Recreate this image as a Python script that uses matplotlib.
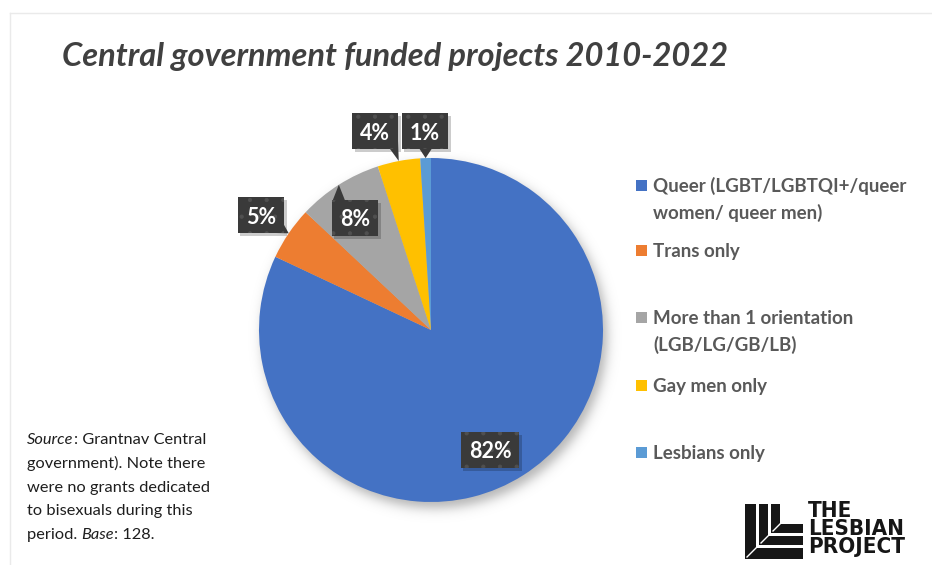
import numpy as np
import matplotlib
matplotlib.use("Agg")
import matplotlib.pyplot as plt
from matplotlib.patches import Rectangle, Polygon

# ---- data -------------------------------------------------------------
categories = [
    "Queer (LGBT/LGBTQI+/queer\nwomen/ queer men)",
    "Trans only",
    "More than 1 orientation\n(LGB/LG/GB/LB)",
    "Gay men only",
    "Lesbians only",
]
shares = [82, 5, 8, 4, 1]
colors = ["#4472C4", "#ED7D31", "#A5A5A5", "#FFC000", "#5B9BD5"]
title = "Central government funded projects 2010-2022"

# ---- layout (pixels, origin top-left) ----------------------------------
W, H = 932, 565
CX, CY, R = 431, 330, 172
label_centers = [(490, 450), (261, 215), (355, 218), (375, 131), (425, 131)]
label_pointer = [False, True, True, True, True]
legend_y = [185, 250, 317, 385, 452]
legend_step = 26.5

plt.rcParams["hatch.linewidth"] = 0.6
plt.rcParams["hatch.color"] = "#505050"

fig = plt.figure(figsize=(W / 100, H / 100), dpi=100)
fig.patch.set_facecolor("white")


def pixel_axes(zorder):
    a = fig.add_axes([0, 0, 1, 1], zorder=zorder)
    a.set_xlim(0, W)
    a.set_ylim(H, 0)
    a.axis("off")
    return a


bg = pixel_axes(0)

# soft drop shadow beneath the pie
yy, xx = np.mgrid[0:H, 0:W] + 0.5
dist = np.hypot(xx - (CX + 4), yy - (CY + 6))
alpha = 0.5 * (1 - np.tanh((dist - R) / 7.0)) * 0.30
shadow = np.zeros((H, W, 4))
shadow[..., 3] = alpha
bg.imshow(shadow, extent=[0, W, H, 0], interpolation="bilinear", aspect="auto", zorder=0)
bg.set_xlim(0, W)
bg.set_ylim(H, 0)

# faint frame of the chart area
bg.plot([9.5, 9.5], [12.5, H], color="#EAEAEA", lw=1.0)
bg.plot([9.5, W], [12.5, 12.5], color="#EAEAEA", lw=1.0)

# title
bg.text(62, 66, title, fontsize=23.5, fontweight="bold", fontstyle="italic",
        family="Lato", color="#404040", va="baseline", ha="left")

# ---- pie ---------------------------------------------------------------
ax = fig.add_axes([(CX - R) / W, (H - CY - R) / H, 2 * R / W, 2 * R / H], zorder=1)
wedges, _ = ax.pie(shares, colors=colors, startangle=90, counterclock=False,
                   radius=1, wedgeprops=dict(linewidth=0))
ax.set_xlim(-1, 1)
ax.set_ylim(-1, 1)
ax.axis("off")

ov = pixel_axes(2)
fig.canvas.draw()
renderer = fig.canvas.get_renderer()
to_pix = ov.transData.inverted()

BOX_FACE = "#3A3A3A"
for i, w in enumerate(wedges):
    bx, by = label_centers[i]
    t = ov.text(bx, by, f"{shares[i]}%", ha="center", va="center_baseline",
                fontsize=15.5, fontweight="bold", color="white", family="Lato", zorder=6)
    ext = t.get_window_extent(renderer)
    bw = ext.width + 16
    bh = 36
    x0, x1 = bx - bw / 2, bx + bw / 2
    y0, y1 = by - bh / 2, by + bh / 2
    ov.add_patch(Rectangle((x0 + 2.5, y0 + 2.5), bw, bh, facecolor="black",
                           alpha=0.2, lw=0, zorder=3))
    if label_pointer[i]:
        mid = np.deg2rad((w.theta1 + w.theta2) / 2)
        tip = to_pix.transform(ax.transData.transform((np.cos(mid), np.sin(mid))))
        tx, ty = tip
        px, py = np.clip(tx, x0, x1), np.clip(ty, y0, y1)
        outx, outy = not (x0 <= tx <= x1), not (y0 <= ty <= y1)
        if outx and outy:
            sx, sy = np.sign(tx - px), np.sign(ty - py)
            base = [(px - 8 * sx, py), (px, py - 8 * sy)]
        elif outy:
            base = [(np.clip(px - 6, x0, x1), py), (np.clip(px + 6, x0, x1), py)]
        else:
            base = [(px, np.clip(py - 6, y0, y1)), (px, np.clip(py + 6, y0, y1))]
        ov.add_patch(Polygon([base[0], (tx, ty), base[1]], closed=True,
                             facecolor=BOX_FACE, lw=0, zorder=4))
    ov.add_patch(Rectangle((x0, y0), bw, bh, facecolor=BOX_FACE, edgecolor="#505050",
                           hatch=".", lw=0, zorder=5))

# ---- legend ------------------------------------------------------------
for i, lab in enumerate(categories):
    yc = legend_y[i]
    ov.add_patch(Rectangle((636, yc - 5.5), 11, 11, facecolor=colors[i], lw=0, zorder=5))
    for k, line in enumerate(lab.split("\n")):
        ov.text(653, yc + 7 + k * legend_step, line, fontsize=13.5, fontweight="bold",
                family="Lato", color="#595959", va="baseline", ha="left")

# ---- source note -------------------------------------------------------
note_lines = [
    [("Source", "italic"), (": Grantnav Central", "normal")],
    [("government). Note there", "normal")],
    [("were no grants dedicated", "normal")],
    [("to bisexuals during this", "normal")],
    [("period. ", "normal"), ("Base", "italic"), (": 128.", "normal")],
]
for k, pieces in enumerate(note_lines):
    x = 27
    yb = 444 + k * 23.8
    for txt, style in pieces:
        t = ov.text(x, yb, txt, fontsize=11.8, fontstyle=style, family="Lato",
                    color="#1E1E1E", va="baseline", ha="left")
        x += t.get_window_extent(renderer).width

# ---- logo --------------------------------------------------------------
INK = "#161616"
ls = [
    [(745, 504), (756, 504), (756, 548), (803, 548), (803, 559), (745, 559)],
    [(759, 504), (768, 504), (768, 536), (803, 536), (803, 545), (759, 545)],
    [(771, 504), (780, 504), (780, 524), (803, 524), (803, 533), (771, 533)],
]
for pts in ls:
    ov.add_patch(Polygon(pts, closed=True, facecolor=INK, lw=0, zorder=5))
for (ax0, ay0), (bx0, by0) in [((747, 557), (756, 548)), ((761, 543), (768, 536)),
                                ((773, 531), (780, 524))]:
    ov.plot([ax0, bx0], [ay0, by0], color="white", lw=1.0, zorder=6)
ov.text(808, 501, "THE\nLESBIAN\nPROJECT", fontsize=16, fontweight="heavy",
        family="DejaVu Sans", fontstretch="condensed", color=INK, va="top", ha="left",
        linespacing=0.87)

fig.savefig("out.png", dpi=100, facecolor="white")
